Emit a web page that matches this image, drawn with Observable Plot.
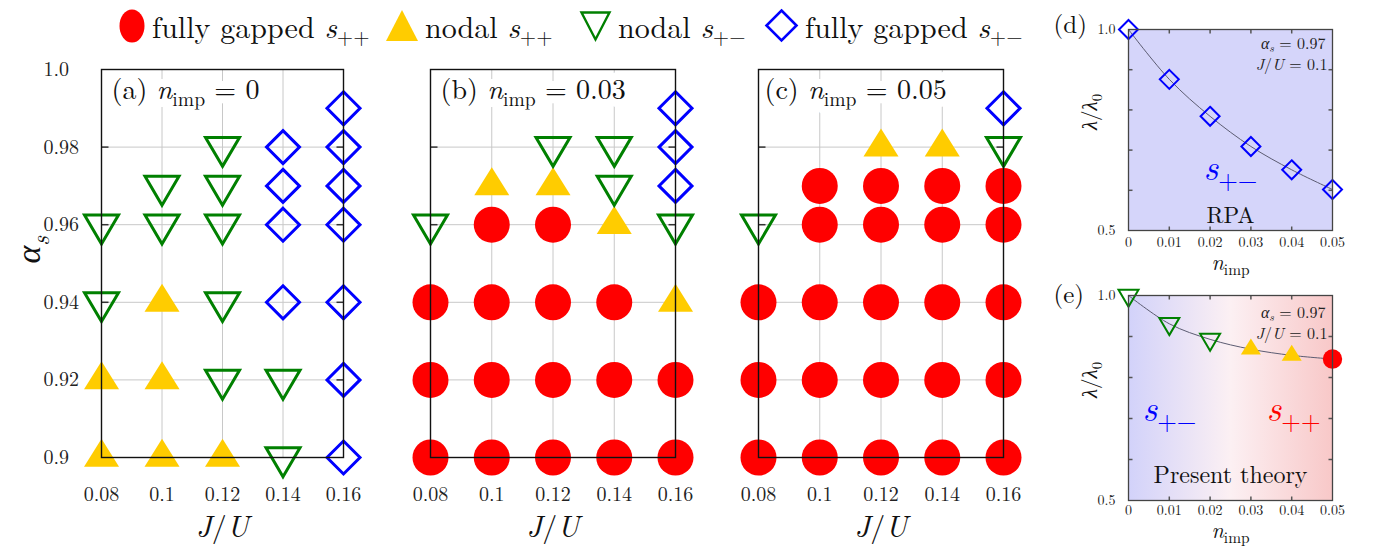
<!DOCTYPE html>
<html>
<head>
<meta charset="utf-8">
<script src="https://cdn.jsdelivr.net/npm/d3@7"></script>
<script src="https://cdn.jsdelivr.net/npm/@observablehq/plot@0.6"></script>
<style>
  body { margin: 0; background: #fff; }
  #fig { position: relative; width: 1381px; height: 546px; overflow: hidden; background: #fff; }
  .panel { position: absolute; }
  .legend-item { position: absolute; top: 4px; display: flex; align-items: center; white-space: nowrap;
                 font-family: 'Latin Modern Roman'; font-size: 30px; color: #111; }
  .legend-item svg { margin-right: 7px; overflow: visible; }
  .legend-item sub { font-size: 0.7em; vertical-align: -0.3em; line-height: 0; }
</style>
</head>
<body>
<div id="fig"></div>
<script>
// ---------- data ----------
const jOverU = [0.08, 0.1, 0.12, 0.14, 0.16];
const alphaTicks = [0.9, 0.92, 0.94, 0.96, 0.98, 1.0];
const alphaTickLabels = ["0.9", "0.92", "0.94", "0.96", "0.98", "1.0"];
const stateCodes = ["F++", "N++", "N+-", "F+-"];
const stateLabels = ["fully gapped <i>s</i><sub>++</sub>", "nodal <i>s</i><sub>++</sub>",
                     "nodal <i>s</i><sub>+−</sub>", "fully gapped <i>s</i><sub>+−</sub>"];

// [J/U, alpha_s, pairing state]
const phaseImp0 = [
  [0.08, 0.96, "N+-"], [0.08, 0.94, "N+-"], [0.08, 0.92, "N++"], [0.08, 0.90, "N++"],
  [0.1, 0.97, "N+-"], [0.1, 0.96, "N+-"], [0.1, 0.94, "N++"], [0.1, 0.92, "N++"], [0.1, 0.90, "N++"],
  [0.12, 0.98, "N+-"], [0.12, 0.97, "N+-"], [0.12, 0.96, "N+-"], [0.12, 0.94, "N+-"], [0.12, 0.92, "N+-"], [0.12, 0.90, "N++"],
  [0.14, 0.98, "F+-"], [0.14, 0.97, "F+-"], [0.14, 0.96, "F+-"], [0.14, 0.94, "F+-"], [0.14, 0.92, "N+-"], [0.14, 0.90, "N+-"],
  [0.16, 0.99, "F+-"], [0.16, 0.98, "F+-"], [0.16, 0.97, "F+-"], [0.16, 0.96, "F+-"], [0.16, 0.94, "F+-"], [0.16, 0.92, "F+-"], [0.16, 0.90, "F+-"]
];
const phaseImp003 = [
  [0.08, 0.96, "N+-"], [0.08, 0.94, "F++"], [0.08, 0.92, "F++"], [0.08, 0.90, "F++"],
  [0.1, 0.97, "N++"], [0.1, 0.96, "F++"], [0.1, 0.94, "F++"], [0.1, 0.92, "F++"], [0.1, 0.90, "F++"],
  [0.12, 0.98, "N+-"], [0.12, 0.97, "N++"], [0.12, 0.96, "F++"], [0.12, 0.94, "F++"], [0.12, 0.92, "F++"], [0.12, 0.90, "F++"],
  [0.14, 0.98, "N+-"], [0.14, 0.97, "N+-"], [0.14, 0.96, "N++"], [0.14, 0.94, "F++"], [0.14, 0.92, "F++"], [0.14, 0.90, "F++"],
  [0.16, 0.99, "F+-"], [0.16, 0.98, "F+-"], [0.16, 0.97, "F+-"], [0.16, 0.96, "N+-"], [0.16, 0.94, "N++"], [0.16, 0.92, "F++"], [0.16, 0.90, "F++"]
];
const phaseImp005 = [
  [0.08, 0.96, "N+-"], [0.08, 0.94, "F++"], [0.08, 0.92, "F++"], [0.08, 0.90, "F++"],
  [0.1, 0.97, "F++"], [0.1, 0.96, "F++"], [0.1, 0.94, "F++"], [0.1, 0.92, "F++"], [0.1, 0.90, "F++"],
  [0.12, 0.98, "N++"], [0.12, 0.97, "F++"], [0.12, 0.96, "F++"], [0.12, 0.94, "F++"], [0.12, 0.92, "F++"], [0.12, 0.90, "F++"],
  [0.14, 0.98, "N++"], [0.14, 0.97, "F++"], [0.14, 0.96, "F++"], [0.14, 0.94, "F++"], [0.14, 0.92, "F++"], [0.14, 0.90, "F++"],
  [0.16, 0.99, "F+-"], [0.16, 0.98, "N+-"], [0.16, 0.97, "F++"], [0.16, 0.96, "F++"], [0.16, 0.94, "F++"], [0.16, 0.92, "F++"], [0.16, 0.90, "F++"]
];

// lambda / lambda_0 versus impurity concentration (alpha_s = 0.97, J/U = 0.1)
const nImp = [0, 0.01, 0.02, 0.03, 0.04, 0.05];
const nImpTickLabels = ["0", "0.01", "0.02", "0.03", "0.04", "0.05"];
const lambdaRPA = [1.0, 0.876, 0.784, 0.709, 0.651, 0.602];
const stateRPA = ["F+-", "F+-", "F+-", "F+-", "F+-", "F+-"];
const lambdaPresent = [1.0, 0.931, 0.893, 0.869, 0.854, 0.845];
const statePresent = ["N+-", "N+-", "N+-", "N++", "N++", "F++"];
const lambdaLabelTicks = [0.5, 1.0];
const lambdaLabelText = ["0.5", "1.0"];
const lambdaMinorTicks = [0.6, 0.7, 0.8, 0.9];

// ---------- symbols ----------
const FONT = "Latin Modern Roman";
const rOf = size => Math.sqrt(size / Math.PI);
const triUp = {draw(ctx, size) { const r = rOf(size), h = 1.6 * r;
  ctx.moveTo(0, -2 * h / 3); ctx.lineTo(r, h / 3); ctx.lineTo(-r, h / 3); ctx.closePath(); }};
const triDown = {draw(ctx, size) { const r = rOf(size), h = 1.7 * r;
  ctx.moveTo(0, 2 * h / 3); ctx.lineTo(r, -h / 3); ctx.lineTo(-r, -h / 3); ctx.closePath(); }};
const diamond = {draw(ctx, size) { const r = rOf(size);
  ctx.moveTo(0, -r); ctx.lineTo(r, 0); ctx.lineTo(0, r); ctx.lineTo(-r, 0); ctx.closePath(); }};
const tickMark = (dx, dy) => ({draw(ctx) { ctx.moveTo(0, 0); ctx.lineTo(dx, dy); }});

const stateStyle = {
  "F++": {symbol: "circle", fill: "#ff0000", stroke: "none"},
  "N++": {symbol: triUp, fill: "#ffcc00", stroke: "none"},
  "N+-": {symbol: triDown, fill: "none", stroke: "#008000"},
  "F+-": {symbol: diamond, fill: "none", stroke: "#0000ff"}
};
const bigMarks = {"F++": {r: 18}, "N++": {r: 17.5}, "N+-": {r: 17, strokeWidth: 3}, "F+-": {r: 16.5, strokeWidth: 3}};
const smallMarks = {"F++": {r: 9.7}, "N++": {r: 10}, "N+-": {r: 10, strokeWidth: 2}, "F+-": {r: 9.5, strokeWidth: 2}};

function stateDots(rows, x, y, sizes) {
  return stateCodes.map(code =>
    Plot.dot(rows.filter(d => d.state === code), {x, y, ...sizes[code], ...stateStyle[code]}));
}

// converts "*italic*" and "_{subscript}" markup inside SVG text into tspans
function richText(svg) {
  svg.querySelectorAll("text").forEach(t => {
    const s = t.textContent;
    if (!/[*]|_\{/.test(s)) return;
    let fs = 16;
    for (let e = t; e && e.getAttribute; e = e.parentNode) {
      const a = e.getAttribute("font-size");
      if (a) { fs = parseFloat(a); break; }
    }
    const runs = [];
    let italic = false, sub = false, buf = "";
    const flush = () => { if (buf) runs.push({text: buf, italic, sub}); buf = ""; };
    for (let i = 0; i < s.length; i++) {
      const c = s[i];
      if (c === "*") { flush(); italic = !italic; }
      else if (c === "_" && s[i + 1] === "{") { flush(); sub = true; i++; }
      else if (c === "}" && sub) { flush(); sub = false; }
      else buf += c;
    }
    flush();
    t.textContent = "";
    let shifted = false;
    const shift = fs * 0.24;
    for (const r of runs) {
      const ts = document.createElementNS("http://www.w3.org/2000/svg", "tspan");
      ts.textContent = r.text;
      if (r.italic) ts.setAttribute("font-style", "italic");
      if (r.sub) {
        ts.setAttribute("font-size", fs * 0.7);
        if (!shifted) { ts.setAttribute("dy", shift); shifted = true; }
      } else if (shifted) { ts.setAttribute("dy", -shift); shifted = false; }
      t.appendChild(ts);
    }
  });
}

const fig = document.getElementById("fig");
function place(svg, left, top) {
  const div = document.createElement("div");
  div.className = "panel";
  div.style.left = left + "px";
  div.style.top = top + "px";
  svg.setAttribute("font-family", FONT);
  svg.style.fontFamily = FONT;
  div.appendChild(svg);
  fig.appendChild(div);
  richText(svg);
  return svg;
}

const svgStyle = {fontFamily: FONT, overflow: "visible", background: "transparent", maxWidth: "none"};

// ---------- phase diagrams (a)-(c) ----------
const gridColor = "#c8c8c8";
function phasePanel({data, label, labelDx, width, marginLeft, marginRight, yLabels}) {
  const rows = data.map(([j, a, state]) => ({j, a, state}));
  const labelOpts = {text: d => d, frameAnchor: "top-left", dx: labelDx, dy: 21, textAnchor: "start",
    lineAnchor: "middle", fontSize: 28};
  return Plot.plot({
    width, height: 546,
    marginTop: 69, marginBottom: 89, marginLeft, marginRight,
    x: {domain: [0.08, 0.16], axis: null},
    y: {domain: [0.9, 1.0], axis: null},
    style: svgStyle,
    marks: [
      Plot.ruleX(jOverU, {stroke: gridColor, strokeWidth: 1}),
      Plot.ruleY(alphaTicks, {stroke: gridColor, strokeWidth: 1}),
      Plot.dot(alphaTicks.slice(1, -1), {y: d => d, frameAnchor: "left", symbol: tickMark(7, 0), r: 1, stroke: "#333", fill: "none"}),
      Plot.dot(alphaTicks.slice(1, -1), {y: d => d, frameAnchor: "right", symbol: tickMark(-7, 0), r: 1, stroke: "#333", fill: "none"}),
      // white backing behind the panel label
      Plot.text([label], {...labelOpts, fill: "white", stroke: "white", strokeWidth: 16}),
      Plot.text([label], {...labelOpts, fill: "#111"}),
      ...stateDots(rows, "j", "a", bigMarks),
      Plot.frame({stroke: "#111", strokeWidth: 1.4}),
      Plot.text(jOverU, {x: d => d, text: d => String(d), frameAnchor: "bottom", dy: 37,
        lineAnchor: "middle", fontSize: 20, fill: "#222"}),
      yLabels ? Plot.text(alphaTicks, {y: d => d, text: (d, i) => alphaTickLabels[i], frameAnchor: "left",
        dx: -58, textAnchor: "start", lineAnchor: "middle", fontSize: 20, fill: "#222"}) : null,
      yLabels ? Plot.text(["*α*_{*s*}"], {text: d => d, frameAnchor: "left", dx: -72, rotate: -90,
        lineAnchor: "middle", fontSize: 34, fill: "#111"}) : null,
      Plot.text(["*J*/*U*"], {text: d => d, frameAnchor: "bottom", dy: 70, lineAnchor: "middle",
        fontSize: 30, fill: "#111"})
    ]
  });
}

place(phasePanel({data: phaseImp0, label: "(a) *n*_{imp} = 0", labelDx: 10,
  width: 360, marginLeft: 101, marginRight: 17, yLabels: true}), 0, 0);
place(phasePanel({data: phaseImp003, label: "(b) *n*_{imp} = 0.03", labelDx: 10,
  width: 340, marginLeft: 70, marginRight: 25, yLabels: false}), 360, 0);
place(phasePanel({data: phaseImp005, label: "(c) *n*_{imp} = 0.05", labelDx: 6,
  width: 340, marginLeft: 58, marginRight: 37, yLabels: false}), 700, 0);

// ---------- lambda vs n_imp panels (d), (e) ----------
function lambdaPanel({values, states, background, marginTop, marginBottom, tag, tagDy, method, methodDy,
                      methodSize, paramDy, tickDy, nDy, phaseTexts}) {
  const rows = nImp.map((n, i) => ({n, lambda: values[i], state: states[i]}));
  return Plot.plot({
    width: 341, height: 273,
    marginTop, marginBottom, marginLeft: 88, marginRight: 49,
    x: {domain: [0, 0.05], axis: null},
    y: {domain: [0.5, 1.0], axis: null},
    style: svgStyle,
    marks: [
      Plot.frame({fill: background, stroke: "none"}),
      Plot.dot(lambdaMinorTicks, {y: d => d, frameAnchor: "left", symbol: tickMark(4, 0), r: 1, stroke: "#555", fill: "none"}),
      Plot.dot(lambdaMinorTicks, {y: d => d, frameAnchor: "right", symbol: tickMark(-4, 0), r: 1, stroke: "#555", fill: "none"}),
      Plot.dot(nImp.slice(1, -1), {x: d => d, frameAnchor: "top", symbol: tickMark(0, 4), r: 1, stroke: "#555", fill: "none"}),
      Plot.dot(nImp.slice(1, -1), {x: d => d, frameAnchor: "bottom", symbol: tickMark(0, -4), r: 1, stroke: "#555", fill: "none"}),
      Plot.text(["*α*_{*s*} = 0.97"], {text: d => d, frameAnchor: "top-right", dx: -7, dy: paramDy,
        textAnchor: "end", lineAnchor: "middle", fontSize: 16, fill: "#222"}),
      Plot.text(["*J*/*U* = 0.1"], {text: d => d, frameAnchor: "top-right", dx: -5, dy: paramDy + 21,
        textAnchor: "end", lineAnchor: "middle", fontSize: 16, fill: "#222"}),
      ...phaseTexts,
      Plot.text([method], {text: d => d, frameAnchor: "bottom", dy: methodDy, lineAnchor: "middle",
        fontSize: methodSize, fill: "#111"}),
      Plot.line(rows, {x: "n", y: "lambda", curve: "catmull-rom", stroke: "#5c5c72", strokeWidth: 1}),
      ...stateDots(rows, "n", "lambda", smallMarks),
      Plot.frame({stroke: "#444", strokeWidth: 1.3}),
      Plot.text(nImp, {x: d => d, text: (d, i) => nImpTickLabels[i], frameAnchor: "bottom", dy: tickDy,
        lineAnchor: "middle", fontSize: 14, fill: "#222"}),
      Plot.text(lambdaLabelTicks, {y: d => d, text: (d, i) => lambdaLabelText[i], frameAnchor: "left", dx: -31,
        textAnchor: "start", lineAnchor: "middle", fontSize: 14, fill: "#222"}),
      Plot.text(["*λ*/*λ*_{0}"], {text: d => d, frameAnchor: "left", dx: -38, rotate: -90,
        lineAnchor: "middle", fontSize: 21, fill: "#111"}),
      Plot.text(["*n*_{imp}"], {text: d => d, frameAnchor: "bottom", dy: nDy, lineAnchor: "middle",
        fontSize: 22, fill: "#111"}),
      Plot.text([tag], {text: d => d, frameAnchor: "top-left", dx: -75, dy: tagDy, textAnchor: "start",
        lineAnchor: "middle", fontSize: 25, fill: "#111"})
    ]
  });
}

place(lambdaPanel({
  values: lambdaRPA, states: stateRPA, background: "#d5d5fa",
  marginTop: 29, marginBottom: 43, tag: "(d)", tagDy: -5, method: "RPA", methodDy: -15, methodSize: 23,
  paramDy: 14, tickDy: 12, nDy: 32,
  phaseTexts: [
    Plot.text(["*s*_{+−}"], {text: d => d, frameAnchor: "top", dy: 139, lineAnchor: "middle",
      fontSize: 36, fill: "#0000ff"})
  ]
}), 1040, 0);

const svgE = lambdaPanel({
  values: lambdaPresent, states: statePresent, background: "url(#presentGradient)",
  marginTop: 22, marginBottom: 46, tag: "(e)", tagDy: -1, method: "Present theory", methodDy: -25, methodSize: 24,
  paramDy: 17, tickDy: 10, nDy: 30,
  phaseTexts: [
    Plot.text(["*s*_{+−}"], {text: d => d, frameAnchor: "top-left", dx: 14, dy: 114, textAnchor: "start",
      lineAnchor: "middle", fontSize: 36, fill: "#0000ff"}),
    Plot.text(["*s*_{++}"], {text: d => d, frameAnchor: "top-right", dx: -12, dy: 114, textAnchor: "end",
      lineAnchor: "middle", fontSize: 36, fill: "#ff0000"})
  ]
});
// horizontal blue-to-red wash behind panel (e)
const defs = d3.create("svg:defs");
const grad = defs.append("linearGradient").attr("id", "presentGradient")
  .attr("x1", 0).attr("x2", 1).attr("y1", 0).attr("y2", 0);
[[0, "#d2d2fa"], [0.5, "#fcf0f3"], [1, "#f8c8c8"]].forEach(([o, c]) =>
  grad.append("stop").attr("offset", o).attr("stop-color", c));
svgE.insertBefore(defs.node(), svgE.firstChild);
place(svgE, 1040, 273);

// ---------- legend ----------
const legendSwatches = [
  '<svg width="26" height="34"><ellipse cx="13" cy="17" rx="12.5" ry="16.5" fill="#ff0000"/></svg>',
  '<svg width="32" height="32"><polygon points="16,0 32,31 0,31" fill="#ffcc00"/></svg>',
  '<svg width="31" height="30"><polygon points="1.5,1.5 29.5,1.5 15.5,28.5" fill="none" stroke="#008000" stroke-width="2.4"/></svg>',
  '<svg width="33" height="33"><polygon points="16.5,1.5 31.5,16.5 16.5,31.5 1.5,16.5" fill="none" stroke="#0000ff" stroke-width="2.6"/></svg>'
];
const legendLefts = [119, 386, 580, 765];
stateCodes.forEach((code, i) => {
  const item = document.createElement("div");
  item.className = "legend-item";
  item.style.left = legendLefts[i] + "px";
  item.innerHTML = legendSwatches[i] + "<span>" + stateLabels[i] + "</span>";
  fig.appendChild(item);
});
</script>
</body>
</html>
